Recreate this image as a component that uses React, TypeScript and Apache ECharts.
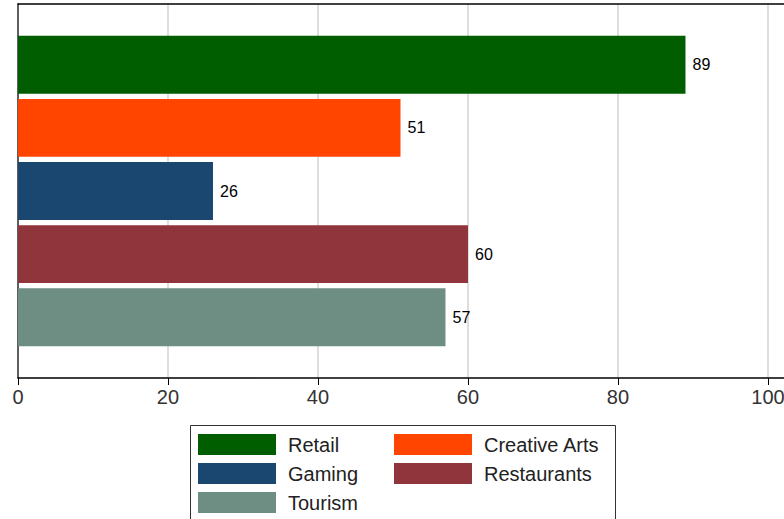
import React, { useEffect, useRef } from "react";
import * as echarts from "echarts";

const seriesNames = ["Retail", "Creative Arts", "Gaming", "Restaurants", "Tourism"];
const seriesValues = [89, 51, 26, 60, 57];
const seriesColors = ["#005e00", "#ff4500", "#1a476f", "#90353b", "#6e8e84"];
const legendCol1 = ["Retail", "Gaming", "Tourism"];
const legendCol2 = ["Creative Arts", "Restaurants"];
const xTicks = [0, 20, 40, 60, 80, 100];

export default function App() {
  const ref = useRef<HTMLDivElement>(null);
  useEffect(() => {
    if (!ref.current) return;
    const chart = echarts.init(ref.current, undefined, { renderer: "svg" });
    const font = "Arial, 'Liberation Sans', sans-serif";
    const legendBase = {
      top: 434,
      orient: "vertical",
      itemWidth: 78,
      itemHeight: 21,
      itemGap: 8,
      icon: "rect",
      padding: 0,
      textStyle: {
        fontSize: 20,
        color: "#222",
        fontFamily: font,
        padding: [0, 0, 0, 7],
      },
    };
    chart.setOption({
      animation: false,
      textStyle: { fontFamily: font },
      grid: { left: 18, width: 770, top: 4, height: 374, containLabel: false },
      xAxis: [
        {
          type: "value",
          min: 0,
          max: 102.67,
          interval: 20,
          position: "bottom",
          axisLine: { show: true, lineStyle: { color: "#000", width: 1.5 } },
          axisTick: { show: true, length: 7, lineStyle: { color: "#000" } },
          axisLabel: {
            fontSize: 20,
            color: "#333",
            margin: 9,
            showMaxLabel: false,
            formatter: (v: number) => (xTicks.includes(v) ? String(v) : ""),
          },
          splitLine: { show: true, lineStyle: { color: "#dedede", width: 2 } },
        },
        {
          type: "value",
          min: 0,
          max: 102.67,
          position: "top",
          axisLine: { show: true, lineStyle: { color: "#000", width: 1.5 } },
          axisTick: { show: false },
          axisLabel: { show: false },
          splitLine: { show: false },
        },
      ],
      yAxis: {
        type: "category",
        data: [""],
        inverse: true,
        axisLine: { show: true, lineStyle: { color: "#333", width: 1.5 } },
        axisTick: { show: false },
        axisLabel: { show: false },
      },
      legend: [
        { ...legendBase, left: 198, data: legendCol1 },
        { ...legendBase, left: 394, data: legendCol2 },
      ],
      graphic: [
        {
          type: "rect",
          shape: { x: 190.5, y: 425.5, width: 425, height: 120 },
          style: { fill: "none", stroke: "#333", lineWidth: 1 },
          silent: true,
        },
      ],
      series: seriesNames.map((name, i) => ({
        type: "bar",
        name,
        xAxisIndex: 0,
        data: [seriesValues[i]],
        itemStyle: { color: seriesColors[i] },
        barCategoryGap: "17%",
        barGap: "9%",
        label: {
          show: true,
          position: "right",
          distance: 7,
          fontSize: 16,
          color: "#000",
          fontFamily: font,
        },
      })),
    });
    return () => chart.dispose();
  }, []);
  return (
    <div
      ref={ref}
      style={{ position: "fixed", left: 0, top: 0, width: 800, height: 519, background: "#fff" }}
    />
  );
}
